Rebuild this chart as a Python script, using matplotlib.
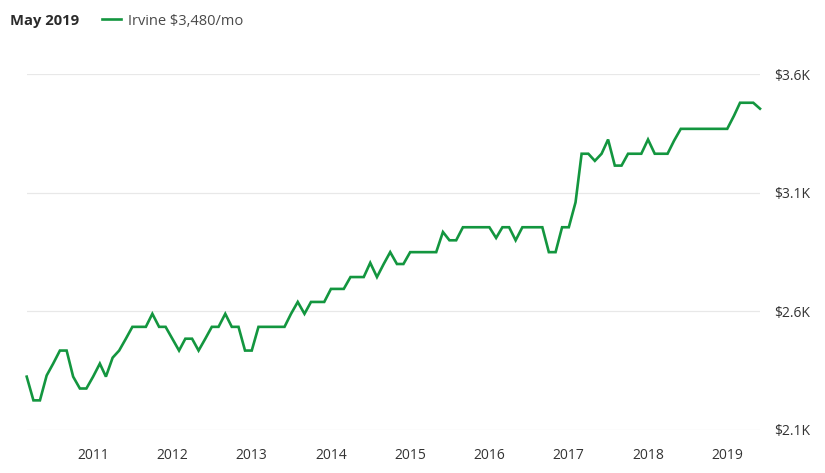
import pandas as pd
import matplotlib
matplotlib.use("Agg")
import matplotlib.pyplot as plt
import matplotlib.dates as mdates
from matplotlib.ticker import FuncFormatter

plt.rcParams["font.family"] = ["Open Sans", "DejaVu Sans"]

# monthly median rent, Irvine, Mar 2010 - Jun 2019
city = "Irvine"
start_month = "2010-03-01"
rent = [
    2325, 2225, 2225, 2330, 2380, 2435, 2435, 2325, 2275, 2275,
    2325, 2380, 2325, 2405, 2435, 2485, 2535, 2535, 2535, 2590,
    2535, 2535, 2485, 2435, 2485, 2485, 2435, 2485, 2535, 2535,
    2590, 2535, 2535, 2435, 2435, 2535, 2535, 2535, 2535, 2535,
    2590, 2640, 2590, 2640, 2640, 2640, 2695, 2695, 2695, 2745,
    2745, 2745, 2805, 2745, 2800, 2850, 2800, 2800, 2850, 2850,
    2850, 2850, 2850, 2935, 2900, 2900, 2955, 2955, 2955, 2955,
    2955, 2910, 2955, 2955, 2900, 2955, 2955, 2955, 2955, 2850,
    2850, 2955, 2955, 3060, 3265, 3265, 3235, 3265, 3325, 3215,
    3215, 3265, 3265, 3265, 3325, 3265, 3265, 3265, 3320, 3370,
    3370, 3370, 3370, 3370, 3370, 3370, 3370, 3425, 3480, 3480,
    3480, 3455,
]
year_ticks = list(range(2011, 2020))
y_ticks = [2100, 2600, 3100, 3600]
header_month = "2019-05-01"

df = pd.DataFrame({
    "date": pd.date_range(start_month, periods=len(rent), freq="MS"),
    "rent": rent,
})
header_value = df.loc[df["date"] == header_month, "rent"].iloc[0]

green = "#13963f"
text_col = "#333333"

fig = plt.figure(figsize=(8.25, 4.73), dpi=100)
ax = fig.add_axes([26.7 / 825, 43 / 473, 733.3 / 825, 355.7 / 473])

ax.plot(df["date"], df["rent"], color=green, lw=1.9, clip_on=False,
        label=f"{city} ${header_value:,}/mo", solid_joinstyle="miter")

ax.set_xlim(df["date"].iloc[0], df["date"].iloc[-1])
ax.set_ylim(y_ticks[0], y_ticks[-1])

ax.set_xticks([pd.Timestamp(f"{y}-01-01") for y in year_ticks])
ax.xaxis.set_major_formatter(mdates.DateFormatter("%Y"))
ax.set_yticks(y_ticks)
ax.yaxis.set_major_formatter(FuncFormatter(lambda v, p: f"${v / 1000:.1f}K"))
ax.yaxis.tick_right()

ax.tick_params(axis="x", length=0, pad=13, labelsize=10, labelcolor=text_col)
ax.tick_params(axis="y", length=0, pad=10, labelsize=10, labelcolor=text_col)

ax.grid(axis="y", color="#e8e8e8", lw=0.9)
ax.grid(axis="x", visible=False)
ax.set_axisbelow(True)
for s in ax.spines.values():
    s.set_visible(False)

fig.text(10 / 825, 1 - 21 / 473, pd.Timestamp(header_month).strftime("%B %Y"),
         fontsize=10.6, fontweight="bold", color="#2b2b2b", va="center", ha="left")
fig.legend(loc="center left", bbox_to_anchor=(102 / 825, 1 - 21 / 473),
           frameon=False, fontsize=10.5, handlelength=1.3, handletextpad=0.5,
           borderpad=0, borderaxespad=0, labelcolor="#4a4a4a")

fig.savefig("out.png", dpi=100)
